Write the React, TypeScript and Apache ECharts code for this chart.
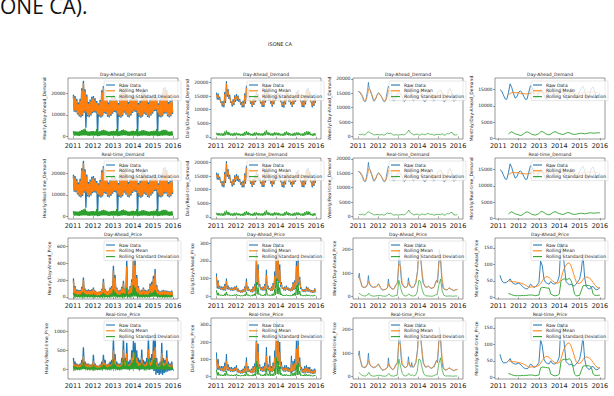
import React, { useEffect, useRef } from "react";
import * as echarts from "echarts";

// ---------------- DATA ----------------
const YEAR_TICKS = [2011, 2012, 2013, 2014, 2015, 2016];
const ROW_TITLES = ["Day-Ahead_Demand", "Real-time_Demand", "Day-Ahead_Price", "Real-time_Price"];
const COL_PREFIX = ["Hourly", "Daily", "Weekly", "Monthly"];
const SERIES_NAMES = ["Raw Data", "Rolling Mean", "Rolling Standard Deviation"];

// Demand, hourly (monthly envelope: highs / lows)
const demHourlyRawHi = [
  19500, 18800, 17500, 15800, 17500, 22500, 26000, 22000, 19500, 16000, 17200, 18500,
  18800, 17800, 16500, 15500, 17000, 21500, 23500, 22000, 19000, 15800, 17300, 18500,
  19300, 18500, 17300, 15600, 18000, 22000, 25000, 21000, 19500, 16000, 17600, 19200,
  19800, 19000, 17800, 15700, 16500, 20500, 22500, 20000, 19000, 15900, 17500, 18600,
  19600, 19700, 18200, 15500, 17500, 20000, 22500, 23000, 21500, 16000, 16800, 17800];
const demHourlyRawLo = [
  11500, 11300, 10200, 9300, 8800, 9500, 11000, 4000, 9300, 8900, 9600, 10800,
  11200, 11000, 0, 9100, 8700, 9300, 10800, 10400, 9200, 8800, 9500, 10600,
  11400, 11200, 0, 9000, 8700, 9400, 11000, 10200, 9100, 8800, 9600, 10900,
  11600, 11400, 0, 9100, 8600, 9200, 10500, 10000, 9000, 8700, 9600, 10600,
  11700, 11900, 0, 9200, 8800, 9300, 10600, 10700, 9400, 8800, 9300, 10400];
const demHourlyMeanHi = [
  18700, 18000, 16700, 15000, 16600, 21500, 24800, 21000, 18600, 15200, 16400, 17700,
  18000, 17000, 15700, 14700, 16200, 20600, 22500, 21000, 18200, 15000, 16500, 17700,
  18500, 17700, 16500, 14800, 17100, 21000, 23800, 20100, 18600, 15200, 16800, 18400,
  19000, 18200, 17000, 14900, 15700, 19600, 21500, 19200, 18200, 15100, 16700, 17800,
  18800, 18900, 17400, 14700, 16600, 19100, 21500, 22000, 20500, 15200, 16000, 17000];
const demHourlyMeanLo = [
  12100, 11900, 10800, 9900, 9400, 10100, 11600, 11100, 9900, 9500, 10200, 11400,
  11800, 11600, 10500, 9700, 9300, 9900, 11400, 11000, 9800, 9400, 10100, 11200,
  12000, 11800, 10600, 9600, 9300, 10000, 11600, 10800, 9700, 9400, 10200, 11500,
  12200, 12000, 10900, 9700, 9200, 9800, 11100, 10600, 9600, 9300, 10200, 11200,
  12300, 12500, 11200, 9800, 9400, 9900, 11200, 11300, 10000, 9400, 9900, 11000];
const demHourlyStdHi = [
  2400, 2300, 2200, 2200, 2500, 2900, 3200, 3600, 2500, 2200, 2300, 2400,
  2400, 2300, 3300, 2200, 2400, 2800, 3000, 2800, 2500, 2200, 2300, 2400,
  2500, 2400, 3400, 2200, 2500, 2900, 3100, 2700, 2500, 2200, 2300, 2500,
  2500, 2400, 3300, 2200, 2400, 2700, 2900, 2600, 2400, 2200, 2300, 2400,
  2500, 2500, 3400, 2200, 2400, 2700, 3000, 3000, 2800, 2200, 2200, 2400];
const demHourlyStdLo = [
  300, 250, 250, 200, 250, 350, 400, 350, 300, 200, 250, 300,
  300, 250, 200, 200, 250, 350, 400, 350, 300, 200, 250, 300,
  300, 250, 250, 200, 250, 350, 450, 350, 300, 200, 250, 300,
  300, 250, 250, 200, 250, 300, 400, 300, 300, 200, 250, 300,
  300, 300, 250, 200, 250, 300, 400, 400, 350, 200, 250, 300];

// Demand, daily (monthly envelope)
const demDailyRawHi = [
  16300, 16000, 14800, 13000, 13200, 16500, 20500, 17500, 15500, 13000, 13800, 15300,
  15800, 15200, 14000, 12800, 13300, 16000, 18800, 17800, 15000, 13000, 14000, 15300,
  16500, 15800, 14500, 12900, 13800, 17000, 19500, 16500, 15200, 13100, 14300, 15800,
  16800, 16200, 15200, 13000, 13000, 15500, 17800, 16000, 14800, 12900, 14200, 15200,
  16500, 17300, 15300, 12900, 13600, 15300, 17500, 18000, 16800, 12900, 13400, 14700];
const demDailyRawLo = [
  13800, 13600, 12600, 11200, 10900, 12500, 14800, 14000, 12500, 11200, 11700, 12900,
  13300, 12900, 11900, 10900, 10900, 12300, 14500, 13800, 12200, 11000, 11800, 12800,
  13900, 13600, 12300, 11000, 11000, 12700, 14900, 13500, 12300, 11100, 12000, 13300,
  14200, 13900, 12900, 11000, 10800, 12000, 13900, 13000, 12000, 11000, 12000, 12900,
  14300, 14800, 13000, 11000, 10900, 12000, 13700, 14200, 12900, 10900, 11400, 12500];
const demDailyMeanHi = [
  15600, 15300, 14100, 12400, 12500, 15700, 19600, 16800, 14800, 12400, 13200, 14600,
  15100, 14500, 13300, 12200, 12600, 15300, 18000, 17100, 14300, 12400, 13400, 14600,
  15800, 15100, 13800, 12300, 13100, 16200, 18700, 15800, 14500, 12500, 13700, 15100,
  16100, 15500, 14500, 12400, 12300, 14800, 17000, 15300, 14100, 12300, 13600, 14500,
  15800, 16600, 14600, 12300, 12900, 14600, 16700, 17300, 16000, 12300, 12800, 14000];
const demDailyMeanLo = [
  14500, 14300, 13300, 11800, 11600, 13200, 15600, 14700, 13200, 11800, 12300, 13600,
  14000, 13600, 12600, 11500, 11600, 13000, 15200, 14500, 12900, 11600, 12400, 13500,
  14600, 14300, 13000, 11600, 11700, 13400, 15600, 14200, 13000, 11700, 12600, 14000,
  14900, 14600, 13600, 11600, 11500, 12700, 14600, 13700, 12700, 11600, 12600, 13600,
  15000, 15500, 13700, 11600, 11600, 12700, 14400, 14900, 13600, 11500, 12000, 13200];
const demDailyStdHi = [
  1500, 1400, 1300, 1200, 1300, 1900, 2300, 1800, 1500, 1200, 1300, 1500,
  1500, 1300, 1200, 1100, 1300, 1800, 2100, 1700, 1400, 1100, 1300, 1600,
  1600, 1400, 1300, 1200, 1400, 1900, 2400, 1700, 1500, 1200, 1400, 1700,
  1500, 1500, 1300, 1100, 1200, 1700, 2000, 1600, 1400, 1100, 1300, 1500,
  1600, 1600, 1400, 1100, 1300, 1700, 2000, 2000, 1800, 1100, 1200, 1400];
const demDailyStdLo = [
  600, 500, 500, 400, 400, 600, 800, 600, 500, 400, 400, 500,
  600, 500, 400, 400, 400, 600, 700, 600, 500, 400, 400, 500,
  600, 500, 500, 400, 500, 600, 800, 600, 500, 400, 500, 600,
  600, 500, 500, 400, 400, 600, 700, 500, 500, 400, 400, 500,
  600, 600, 500, 400, 400, 600, 700, 700, 600, 400, 400, 500];

// Demand, weekly (two readings per month)
const demWeeklyRaw = [
  15800, 15300, 15200, 14600, 14300, 13600, 12600, 12200, 12000, 12500, 14500, 16000, 18800, 16500, 16200, 15000, 14500, 13200, 12400, 12200, 12700, 13300, 14200, 14800,
  15200, 14800, 14600, 14000, 13600, 12800, 12300, 12000, 12200, 12800, 14800, 16200, 17500, 16800, 16600, 15200, 14200, 13000, 12300, 12400, 12800, 13600, 14400, 14900,
  15600, 15200, 15000, 14600, 14000, 13200, 12400, 12100, 12300, 13000, 15200, 16500, 18200, 15800, 15600, 14800, 14000, 13000, 12300, 12500, 13000, 13900, 14800, 15400,
  15900, 15600, 15300, 15000, 14600, 13600, 12500, 12100, 12100, 12600, 14200, 15500, 16500, 15800, 15300, 14600, 13800, 12800, 12300, 12400, 13100, 13800, 14600, 15200,
  15700, 16000, 16300, 16200, 14800, 13800, 12400, 12000, 12200, 12800, 14000, 15000, 16300, 16500, 16800, 15800, 15600, 13600, 12300, 12200, 12500, 13000, 13800, 14300];
const demWeeklyMean = [
  15600, 15300, 14400, 12800, 12300, 13800, 16500, 16000, 14300, 12700, 12900, 14300,
  15000, 14500, 13500, 12400, 12300, 14000, 16200, 16300, 14200, 12600, 13100, 14300,
  15300, 15000, 14000, 12600, 12400, 14200, 16500, 15800, 14100, 12700, 13300, 14800,
  15600, 15300, 14600, 12800, 12200, 13600, 15500, 15300, 13900, 12700, 13300, 14700,
  15600, 16000, 15600, 13000, 12300, 13600, 15600, 16200, 15000, 12800, 12800, 13800];
const demWeeklyStd = [
  700, 600, 800, 500, 600, 1400, 1600, 1200, 900, 500, 600, 700,
  600, 500, 700, 400, 700, 1200, 1000, 1100, 800, 400, 600, 500,
  500, 600, 700, 500, 800, 1300, 2200, 1200, 900, 500, 700, 800,
  500, 500, 900, 600, 600, 1000, 900, 700, 800, 400, 600, 700,
  700, 600, 900, 500, 500, 1000, 900, 1300, 1400, 500, 500, 600];

// Demand, monthly
const demMonthlyRaw = [
  15000, 14600, 13400, 12200, 12000, 14000, 16800, 15600, 13800, 12400, 12800, 14200,
  14600, 14200, 13000, 12000, 12100, 14200, 16200, 15800, 13600, 12300, 13000, 14300,
  15000, 14800, 13500, 12100, 12200, 14400, 16600, 15200, 13500, 12400, 13200, 14700,
  15500, 15100, 14200, 12300, 12000, 13600, 15500, 14900, 13300, 12300, 13300, 14500,
  15400, 16000, 14800, 12300, 12100, 13500, 15400, 15900, 14400, 12400, 12700, 13800];
const demMonthlyMean = [
  null, null, null, null, null, 13500, 13800, 14100, 14100, 14000, 14100, 14100,
  13800, 13800, 13800, 13700, 13700, 13800, 13900, 14100, 14000, 13900, 13900, 13900,
  14000, 14100, 14100, 14100, 14200, 14200, 14100, 14000, 13900, 13800, 13900, 14000,
  14100, 14100, 14000, 14000, 13900, 13900, 13900, 13800, 13800, 13700, 13900, 14000,
  14000, 14100, 14100, 14200, 14300, 14300, 14200, 14300, 14200, 14100, 14000, 14000];
const demMonthlyStd = [
  null, null, null, null, null, 1300, 1800, 2000, 1700, 1400, 1200, 1100,
  900, 1000, 1400, 1800, 2000, 1800, 1500, 1200, 1100, 1000, 1200, 1500,
  2000, 2100, 1800, 1400, 1200, 1100, 1300, 1700, 2000, 2000, 1700, 1500,
  1300, 1200, 1300, 1600, 1800, 1700, 1500, 1300, 1200, 1300, 1400, 1500,
  1600, 1500, 1400, 1500, 1600, 1700, 1700, 1600, 1600, 1700, 1700, 1700];

// Day-ahead price
const daHourlyRawHi = [
  220, 130, 90, 80, 80, 120, 230, 100, 80, 90, 80, 90,
  110, 75, 55, 55, 65, 95, 215, 95, 65, 65, 110, 130,
  370, 260, 110, 75, 85, 120, 190, 100, 430, 85, 130, 210,
  480, 450, 260, 130, 75, 85, 110, 85, 75, 90, 160, 180,
  250, 330, 140, 85, 65, 75, 85, 75, 75, 65, 65, 75];
const daHourlyRawLo = [
  25, 22, 20, 15, 12, 15, 20, 18, 15, 15, 18, 20,
  15, 12, 10, 10, 10, 12, 15, 15, 12, 12, 15, 18,
  30, 25, 18, 15, 15, 15, 20, 15, 15, 15, 18, 25,
  40, 35, 25, 15, 12, 12, 15, 12, 12, 12, 18, 22,
  25, 30, 18, 10, 8, 8, 10, 10, 10, 8, 8, 8];
const daHourlyMeanHi = [
  190, 110, 75, 70, 70, 100, 200, 85, 70, 75, 70, 75,
  95, 65, 48, 48, 55, 85, 180, 80, 55, 55, 95, 110,
  310, 220, 95, 65, 72, 100, 160, 85, 360, 72, 110, 180,
  470, 380, 220, 110, 65, 72, 95, 72, 65, 75, 135, 150,
  215, 280, 120, 72, 55, 65, 72, 65, 65, 55, 55, 65];
const daHourlyMeanLo = [
  30, 28, 25, 20, 18, 20, 25, 22, 20, 20, 22, 25,
  20, 17, 15, 15, 15, 17, 20, 20, 17, 17, 20, 23,
  35, 30, 23, 20, 20, 20, 25, 20, 20, 20, 23, 30,
  45, 40, 30, 20, 17, 17, 20, 17, 17, 17, 23, 27,
  30, 35, 23, 15, 13, 13, 15, 15, 15, 13, 13, 13];
const daHourlyStdHi = [
  50, 30, 20, 18, 18, 30, 60, 25, 20, 20, 18, 20,
  25, 18, 12, 12, 15, 22, 50, 22, 15, 15, 25, 30,
  90, 60, 25, 18, 20, 30, 45, 25, 110, 20, 30, 50,
  140, 110, 60, 30, 18, 20, 25, 20, 18, 20, 40, 45,
  60, 80, 35, 20, 15, 18, 20, 18, 18, 15, 15, 18];
const daHourlyStdLo = [
  3, 3, 2, 2, 2, 2, 3, 3, 2, 2, 2, 3,
  2, 2, 1, 1, 1, 2, 2, 2, 1, 1, 2, 2,
  4, 3, 2, 2, 2, 2, 3, 2, 2, 2, 2, 3,
  5, 4, 3, 2, 2, 2, 2, 2, 2, 2, 2, 3,
  3, 4, 2, 1, 1, 1, 1, 1, 1, 1, 1, 1];

const daDailyRawHi = [
  130, 90, 60, 55, 55, 70, 100, 60, 50, 50, 50, 55,
  60, 45, 35, 35, 40, 55, 100, 55, 40, 40, 55, 70,
  260, 180, 70, 50, 55, 70, 150, 60, 45, 55, 75, 140,
  300, 250, 180, 80, 50, 55, 60, 50, 45, 50, 80, 90,
  200, 220, 110, 50, 40, 40, 55, 50, 40, 35, 35, 45];
const daDailyRawLo = [
  45, 42, 38, 35, 33, 33, 40, 38, 33, 32, 33, 38,
  28, 24, 21, 21, 24, 27, 33, 30, 24, 22, 27, 33,
  65, 55, 38, 33, 33, 33, 42, 36, 30, 30, 38, 50,
  85, 75, 55, 42, 33, 33, 36, 31, 28, 30, 36, 42,
  55, 65, 42, 28, 24, 24, 28, 26, 23, 20, 20, 23];
const daDailyMeanHi = [
  110, 80, 52, 48, 48, 60, 85, 52, 44, 44, 45, 50,
  52, 40, 31, 31, 35, 48, 80, 48, 36, 35, 48, 60,
  220, 150, 60, 45, 48, 60, 120, 52, 40, 48, 65, 115,
  260, 220, 150, 70, 45, 48, 52, 45, 40, 45, 70, 80,
  170, 190, 95, 45, 36, 36, 48, 44, 36, 31, 31, 40];
const daDailyMeanLo = [
  55, 50, 42, 38, 36, 38, 48, 42, 36, 35, 36, 42,
  32, 27, 23, 23, 27, 30, 38, 34, 27, 25, 30, 38,
  80, 65, 42, 36, 36, 38, 50, 40, 33, 34, 42, 60,
  100, 90, 65, 48, 36, 36, 40, 34, 31, 34, 42, 48,
  65, 80, 50, 31, 27, 27, 32, 30, 26, 23, 23, 26];
const daDailyStdHi = [
  35, 20, 10, 8, 8, 15, 25, 10, 7, 8, 8, 10,
  12, 8, 5, 5, 6, 10, 25, 10, 6, 6, 10, 15,
  80, 50, 15, 8, 8, 12, 40, 10, 7, 10, 15, 40,
  100, 80, 50, 15, 8, 8, 10, 7, 6, 8, 15, 20,
  60, 70, 30, 8, 6, 6, 10, 8, 6, 5, 5, 7];
const daDailyStdLo = [
  6, 5, 4, 3, 3, 4, 6, 4, 3, 3, 3, 4,
  4, 3, 2, 2, 2, 3, 5, 3, 2, 2, 3, 4,
  12, 10, 5, 3, 3, 4, 6, 4, 3, 3, 4, 8,
  15, 12, 8, 4, 3, 3, 4, 3, 2, 3, 4, 5,
  8, 10, 5, 3, 2, 2, 3, 3, 2, 2, 2, 3];

const daWeeklyRaw = [
  80, 100, 70, 60, 45, 40, 40, 38, 42, 40, 45, 55, 90, 55, 50, 45, 42, 40, 40, 42, 40, 42, 45, 48,
  55, 50, 40, 35, 30, 28, 28, 30, 30, 32, 35, 40, 75, 45, 40, 38, 33, 32, 32, 35, 45, 50, 55, 60,
  120, 200, 140, 90, 55, 50, 45, 40, 38, 40, 42, 45, 80, 55, 45, 40, 38, 40, 40, 45, 55, 60, 90, 110,
  180, 230, 200, 150, 110, 70, 55, 50, 42, 40, 40, 42, 45, 42, 38, 36, 35, 38, 38, 42, 55, 65, 70, 60,
  110, 200, 180, 130, 75, 45, 35, 32, 30, 30, 28, 30, 35, 38, 35, 32, 30, 28, 25, 27, 28, 30, 30, 32];
const daWeeklyMean = [
  85, 70, 45, 40, 41, 48, 65, 52, 43, 40, 41, 45,
  52, 40, 31, 29, 31, 37, 55, 42, 34, 33, 44, 55,
  140, 130, 60, 44, 40, 43, 60, 46, 40, 42, 55, 90,
  190, 185, 100, 55, 42, 41, 43, 38, 36, 39, 55, 67,
  140, 170, 75, 35, 30, 29, 36, 34, 30, 26, 29, 31];
const daWeeklyStd = [
  15, 10, 5, 3, 3, 6, 15, 5, 3, 2, 3, 4,
  5, 5, 3, 2, 2, 4, 12, 4, 2, 2, 5, 5,
  70, 40, 15, 4, 3, 4, 12, 5, 3, 3, 5, 20,
  70, 65, 30, 10, 4, 3, 3, 2, 2, 3, 8, 8,
  50, 75, 25, 6, 3, 2, 3, 3, 2, 2, 3, 3];

const daMonthlyRaw = [
  67, 52, 45, 44, 46, 50, 56, 46, 42, 40, 41, 43,
  40, 35, 30, 27, 25, 30, 40, 36, 30, 32, 38, 45,
  110, 95, 55, 45, 42, 40, 48, 42, 40, 42, 48, 65,
  165, 150, 95, 48, 42, 38, 40, 35, 35, 40, 48, 55,
  80, 130, 60, 32, 27, 25, 32, 33, 26, 23, 25, 30];
const daMonthlyMean = [
  null, null, null, null, null, 50, 49, 48, 47, 47, 46, 45,
  44, 42, 40, 37, 34, 31, 31, 32, 32, 33, 34, 36,
  42, 50, 58, 62, 63, 60, 55, 50, 46, 44, 43, 45,
  55, 75, 88, 98, 104, 104, 95, 80, 62, 48, 42, 43,
  45, 55, 60, 62, 60, 58, 52, 45, 38, 32, 29, 28];
const daMonthlyStd = [
  null, null, null, null, null, 12, 10, 8, 6, 5, 5, 5,
  5, 6, 5, 6, 6, 7, 7, 7, 6, 5, 6, 7,
  28, 30, 30, 29, 28, 28, 10, 7, 5, 5, 6, 10,
  48, 55, 56, 55, 55, 58, 50, 35, 10, 5, 5, 6,
  20, 35, 36, 36, 36, 35, 30, 10, 6, 6, 6, 7];

// Real-time price
const rtHourlyRawHi = [
  300, 200, 150, 120, 150, 250, 580, 200, 150, 150, 120, 130,
  380, 150, 100, 90, 120, 200, 380, 250, 120, 150, 200, 250,
  830, 400, 200, 150, 150, 300, 870, 300, 700, 200, 250, 500,
  750, 700, 500, 300, 250, 520, 250, 200, 300, 870, 300, 400,
  800, 965, 300, 150, 200, 700, 300, 250, 500, 200, 150, 200];
const rtHourlyRawLo = [
  5, 5, 0, -5, 0, 5, 10, 5, 0, 0, 0, 5,
  0, 0, -5, -5, 0, 0, 5, 5, 0, 0, 0, 5,
  10, 5, 0, -5, 0, 0, 5, 0, 0, 0, 0, 5,
  10, 10, 5, -10, -10, 0, 5, 0, 0, -20, 0, 0,
  -50, -150, -100, -150, -120, -150, -100, -80, -60, -40, -30, -20];
const rtHourlyMeanHi = [
  180, 120, 90, 80, 90, 150, 350, 130, 100, 90, 80, 90,
  220, 100, 70, 60, 80, 130, 230, 160, 80, 90, 120, 150,
  500, 250, 120, 90, 100, 180, 520, 180, 420, 120, 150, 300,
  450, 420, 300, 180, 150, 310, 150, 120, 180, 520, 180, 240,
  480, 580, 180, 90, 120, 420, 180, 150, 300, 120, 90, 120];
const rtHourlyMeanLo = [
  20, 18, 15, 12, 12, 15, 20, 18, 15, 12, 12, 15,
  15, 12, 10, 10, 12, 12, 18, 15, 12, 12, 15, 18,
  30, 25, 15, 12, 12, 15, 20, 15, 15, 12, 15, 22,
  40, 35, 25, 12, 10, 12, 15, 12, 12, 10, 15, 20,
  10, 5, 5, 0, 5, 0, 5, 5, 10, 10, 10, 10];
const rtHourlyStdHi = [
  80, 60, 40, 35, 40, 70, 180, 60, 40, 40, 35, 40,
  110, 45, 30, 25, 35, 60, 120, 80, 35, 45, 60, 80,
  260, 130, 60, 45, 45, 90, 270, 90, 220, 60, 80, 160,
  240, 450, 160, 90, 80, 160, 80, 60, 90, 270, 90, 120,
  250, 300, 90, 45, 60, 220, 90, 80, 150, 60, 45, 60];
const rtHourlyStdLo = [
  2, 2, 2, 1, 1, 2, 3, 2, 2, 1, 1, 2,
  2, 1, 1, 1, 1, 2, 2, 2, 1, 1, 2, 2,
  4, 3, 2, 1, 1, 2, 3, 2, 2, 1, 2, 3,
  5, 4, 3, 2, 2, 2, 2, 2, 2, 2, 2, 3,
  3, 4, 3, 2, 2, 2, 2, 2, 2, 2, 2, 2];

const rtDailyRawHi = [
  140, 100, 60, 60, 60, 80, 130, 70, 55, 55, 50, 55,
  65, 45, 35, 38, 45, 60, 110, 60, 40, 45, 60, 75,
  280, 190, 70, 55, 60, 80, 170, 70, 120, 60, 80, 150,
  320, 260, 200, 85, 55, 65, 65, 55, 50, 120, 90, 100,
  210, 240, 110, 55, 45, 60, 65, 55, 55, 40, 40, 45];
const rtDailyRawLo = [
  40, 38, 33, 30, 28, 28, 35, 33, 28, 27, 28, 33,
  24, 20, 17, 17, 20, 22, 28, 25, 20, 18, 22, 28,
  55, 45, 32, 28, 28, 28, 36, 30, 25, 25, 32, 42,
  75, 65, 45, 35, 28, 28, 30, 26, 23, 25, 30, 36,
  45, 55, 35, 22, 18, 18, 22, 20, 18, 15, 15, 18];
const rtDailyMeanHi = [
  100, 75, 50, 48, 48, 60, 90, 55, 44, 44, 42, 46,
  50, 38, 30, 31, 36, 47, 80, 48, 34, 36, 48, 58,
  200, 140, 58, 45, 48, 60, 120, 55, 80, 48, 62, 110,
  240, 200, 140, 65, 45, 50, 50, 44, 40, 80, 68, 75,
  160, 180, 85, 44, 36, 46, 50, 44, 42, 32, 32, 36];
const rtDailyMeanLo = [
  50, 46, 38, 34, 32, 33, 42, 38, 32, 31, 32, 38,
  28, 24, 20, 20, 23, 26, 33, 29, 23, 21, 26, 32,
  70, 55, 37, 32, 32, 33, 42, 35, 30, 29, 37, 50,
  90, 80, 55, 40, 32, 32, 35, 30, 27, 30, 36, 42,
  55, 68, 42, 26, 22, 22, 26, 24, 22, 18, 18, 21];
const rtDailyStdHi = [
  40, 25, 12, 10, 10, 18, 30, 12, 8, 10, 8, 10,
  15, 9, 6, 7, 8, 12, 28, 12, 7, 8, 12, 16,
  90, 55, 16, 10, 10, 15, 45, 12, 30, 12, 16, 45,
  110, 90, 60, 18, 10, 12, 12, 9, 8, 30, 18, 22,
  65, 80, 32, 10, 8, 12, 12, 10, 10, 6, 6, 8];
const rtDailyStdLo = [
  6, 5, 4, 3, 3, 4, 6, 4, 3, 3, 3, 4,
  4, 3, 2, 2, 2, 3, 5, 3, 2, 2, 3, 4,
  12, 10, 5, 3, 3, 4, 6, 4, 4, 3, 4, 8,
  15, 12, 8, 4, 3, 3, 4, 3, 2, 4, 4, 5,
  8, 10, 5, 3, 2, 3, 3, 3, 2, 2, 2, 3];

const rtWeeklyRaw = [
  90, 110, 75, 60, 45, 40, 40, 37, 42, 40, 48, 60, 100, 55, 50, 45, 42, 40, 38, 40, 40, 42, 45, 50,
  55, 48, 40, 35, 30, 27, 28, 30, 32, 33, 36, 42, 80, 45, 40, 38, 32, 30, 32, 35, 45, 52, 58, 60,
  130, 210, 150, 90, 55, 48, 45, 40, 38, 40, 42, 48, 85, 55, 45, 40, 60, 40, 40, 45, 55, 60, 95, 115,
  190, 230, 210, 150, 120, 75, 55, 50, 42, 40, 42, 45, 45, 42, 38, 36, 35, 38, 45, 42, 55, 65, 70, 60,
  115, 210, 190, 130, 80, 45, 35, 30, 28, 28, 30, 32, 35, 38, 35, 32, 30, 28, 25, 27, 28, 30, 30, 32];
const rtWeeklyMean = [
  90, 72, 46, 40, 41, 50, 68, 50, 42, 40, 42, 46,
  52, 40, 30, 29, 32, 37, 55, 42, 32, 33, 45, 56,
  145, 135, 60, 44, 40, 44, 62, 46, 45, 43, 55, 92,
  195, 190, 105, 56, 42, 42, 44, 38, 37, 42, 56, 67,
  145, 175, 78, 35, 29, 30, 36, 34, 30, 26, 29, 31];
const rtWeeklyStd = [
  18, 12, 5, 3, 3, 7, 18, 6, 3, 2, 3, 5,
  6, 5, 3, 2, 2, 5, 14, 4, 3, 2, 5, 6,
  75, 45, 15, 4, 3, 5, 14, 5, 8, 3, 6, 22,
  75, 70, 35, 12, 4, 3, 3, 2, 2, 4, 8, 8,
  55, 80, 28, 6, 3, 3, 3, 3, 2, 2, 3, 3];

const rtMonthlyRaw = [
  70, 52, 44, 44, 45, 50, 57, 45, 42, 40, 41, 43,
  40, 34, 29, 27, 26, 30, 40, 37, 30, 32, 37, 45,
  115, 95, 55, 45, 42, 41, 50, 42, 40, 42, 48, 62,
  160, 150, 100, 48, 42, 38, 40, 35, 35, 40, 47, 55,
  80, 125, 55, 32, 26, 24, 32, 33, 26, 23, 25, 30];
const rtMonthlyMean = [
  null, null, null, null, null, 50, 49, 48, 47, 47, 46, 45,
  44, 42, 40, 37, 34, 31, 31, 32, 32, 33, 34, 36,
  43, 51, 59, 63, 63, 61, 55, 50, 46, 44, 43, 45,
  55, 74, 88, 98, 104, 104, 95, 80, 62, 48, 42, 43,
  45, 55, 60, 62, 60, 58, 52, 45, 38, 32, 29, 28];
const rtMonthlyStd = [
  null, null, null, null, null, 12, 10, 8, 6, 5, 5, 5,
  5, 6, 5, 6, 6, 7, 7, 7, 6, 5, 6, 7,
  29, 31, 31, 30, 29, 29, 10, 7, 5, 5, 6, 10,
  47, 54, 55, 54, 54, 57, 50, 35, 10, 5, 5, 6,
  20, 34, 35, 35, 35, 34, 29, 10, 6, 6, 6, 7];

// axis ranges and tick labels per row/column
const Y_RANGES = [
  [[-1300, 27300], [-800, 21700], [-900, 20300], [-200, 18600]],
  [[-1300, 27300], [-800, 21700], [-900, 20300], [-200, 18600]],
  [[-25, 700], [-15, 330], [-10, 250], [-5, 180]],
  [[-260, 1360], [-15, 340], [-10, 250], [-5, 180]],
];
const Y_TICKS = [
  [[0, 10000, 20000], [0, 5000, 10000, 15000, 20000], [0, 5000, 10000, 15000, 20000], [0, 5000, 10000, 15000]],
  [[0, 10000, 20000], [0, 5000, 10000, 15000, 20000], [0, 5000, 10000, 15000, 20000], [0, 5000, 10000, 15000]],
  [[0, 200, 400, 600], [0, 100, 200, 300], [0, 100, 200], [0, 50, 100, 150]],
  [[0, 500, 1000], [0, 100, 200, 300], [0, 100, 200], [0, 50, 100, 150]],
];

// ---------------- LAYOUT ----------------
const COL_LEFT = [68, 211, 353, 495];
const ROW_TOP = [78, 158, 238, 318];
const GW = 110;
const GH = 61;
const COLORS = ["#1f77b4", "#ff7f0e", "#2ca02c"];
const LINE_W = [1.35, 1.0, 0.7, 0.9];
const FONT = "DejaVu Sans";

type Pt = [number, number | null];
const zig = (hi: number[], lo: number[]): Pt[] => {
  const out: Pt[] = [];
  hi.forEach((h, i) => {
    out.push([2011 + (i + 0.25) / 12, h]);
    out.push([2011 + (i + 0.75) / 12, lo[i]]);
  });
  return out;
};
const semi = (v: number[]): Pt[] => v.map((y, i) => [2011 + (i + 0.5) / 24, y]);
const mid = (v: (number | null)[]): Pt[] => v.map((y, i) => [2011 + (i + 0.5) / 12, y]);
const mend = (v: (number | null)[]): Pt[] => v.map((y, i) => [2011 + (i + 1) / 12, y]);

function panelData(row: number, col: number): Pt[][] {
  const demand = row < 2;
  const rt = row === 3;
  if (demand) {
    if (col === 0) return [zig(demHourlyRawHi, demHourlyRawLo), zig(demHourlyMeanHi, demHourlyMeanLo), zig(demHourlyStdHi, demHourlyStdLo)];
    if (col === 1) return [zig(demDailyRawHi, demDailyRawLo), zig(demDailyMeanHi, demDailyMeanLo), zig(demDailyStdHi, demDailyStdLo)];
    if (col === 2) return [semi(demWeeklyRaw), mid(demWeeklyMean), mid(demWeeklyStd)];
    return [mend(demMonthlyRaw), mend(demMonthlyMean), mend(demMonthlyStd)];
  }
  if (!rt) {
    if (col === 0) return [zig(daHourlyRawHi, daHourlyRawLo), zig(daHourlyMeanHi, daHourlyMeanLo), zig(daHourlyStdHi, daHourlyStdLo)];
    if (col === 1) return [zig(daDailyRawHi, daDailyRawLo), zig(daDailyMeanHi, daDailyMeanLo), zig(daDailyStdHi, daDailyStdLo)];
    if (col === 2) return [semi(daWeeklyRaw), mid(daWeeklyMean), mid(daWeeklyStd)];
    return [mend(daMonthlyRaw), mend(daMonthlyMean), mend(daMonthlyStd)];
  }
  if (col === 0) return [zig(rtHourlyRawHi, rtHourlyRawLo), zig(rtHourlyMeanHi, rtHourlyMeanLo), zig(rtHourlyStdHi, rtHourlyStdLo)];
  if (col === 1) return [zig(rtDailyRawHi, rtDailyRawLo), zig(rtDailyMeanHi, rtDailyMeanLo), zig(rtDailyStdHi, rtDailyStdLo)];
  if (col === 2) return [semi(rtWeeklyRaw), mid(rtWeeklyMean), mid(rtWeeklyStd)];
  return [mend(rtMonthlyRaw), mend(rtMonthlyMean), mend(rtMonthlyStd)];
}

function buildOption() {
  const grid: any[] = [];
  const xAxis: any[] = [];
  const yAxis: any[] = [];
  const series: any[] = [];
  const legend: any[] = [];
  const graphic: any[] = [
    { type: "text", x: 0, y: 5.5, style: { text: "ONE CA).", fontSize: 21, fontFamily: "Open Sans", fill: "#111", verticalAlign: "middle" } },
    { type: "text", x: 280, y: 43.5, style: { text: "ISONE CA", fontSize: 5, fontFamily: FONT, fill: "#222", align: "center", verticalAlign: "middle" } },
  ];
  for (let r = 0; r < 4; r++) {
    for (let c = 0; c < 4; c++) {
      const idx = r * 4 + c;
      const gl = COL_LEFT[c];
      const gt = ROW_TOP[r];
      grid.push({ left: gl, top: gt, width: GW, height: GH, show: true, borderColor: "#555", borderWidth: 0.6, backgroundColor: "transparent" });
      const monthly = c === 3;
      xAxis.push({
        type: "value", gridIndex: idx,
        min: monthly ? 2010.84 : 2010.75, max: 2016.25,
        axisLine: { show: false },
        splitLine: { show: false },
        axisTick: { show: true, length: 2, customValues: YEAR_TICKS, lineStyle: { color: "#444", width: 0.5 } },
        axisLabel: { show: true, customValues: YEAR_TICKS, fontSize: 6.5, fontFamily: FONT, color: "#222", margin: 3, formatter: (v: number) => String(Math.round(v)) },
      });
      const ticks = Y_TICKS[r][c];
      const maxLen = Math.max(...ticks.map((t) => String(t).length));
      yAxis.push({
        type: "value", gridIndex: idx,
        min: Y_RANGES[r][c][0], max: Y_RANGES[r][c][1],
        axisLine: { show: false },
        splitLine: { show: false },
        axisTick: { show: true, length: 2, customValues: ticks, lineStyle: { color: "#444", width: 0.5 } },
        axisLabel: { show: true, customValues: ticks, fontSize: 4.5, fontFamily: FONT, color: "#222", margin: 2.5, formatter: (v: number) => String(Math.round(v)) },
        name: `${COL_PREFIX[c]}/${ROW_TITLES[r]}`,
        nameLocation: "middle",
        nameGap: maxLen * 2.9 + 7,
        nameTextStyle: { fontSize: 4.5, fontFamily: FONT, color: "#222" },
      });
      const data = panelData(r, c);
      const lw = LINE_W[c];
      data.forEach((d, k) => {
        series.push({
          type: "line", name: SERIES_NAMES[k], xAxisIndex: idx, yAxisIndex: idx,
          data: d, showSymbol: false, symbol: "none", connectNulls: false,
          lineStyle: { color: COLORS[k], width: lw, join: "miter" }, itemStyle: { color: COLORS[k] },
          z: 2 + k, silent: true,
        });
      });
      legend.push({
        data: SERIES_NAMES, left: gl + 36, top: gt + 3, orient: "vertical",
        icon: "rect", itemWidth: 9, itemHeight: 1.1, itemGap: 0.8,
        textStyle: { fontSize: 4.5, fontFamily: FONT, color: "#222", padding: [0, 0, 0, -1] },
        backgroundColor: "rgba(255,255,255,0.8)", borderColor: "#ccc", borderWidth: 0.5, borderRadius: 1,
        padding: [1.5, 2, 1.5, 2], selectedMode: false,
      });
      graphic.push({
        type: "text", x: gl + GW / 2, y: gt - 3.8,
        style: { text: ROW_TITLES[r], fontSize: 4.5, fontFamily: FONT, fill: "#222", align: "center", verticalAlign: "middle" },
      });
    }
  }
  return {
    animation: false,
    backgroundColor: "#fff",
    textStyle: { fontFamily: FONT },
    grid, xAxis, yAxis, series, legend, graphic,
  };
}

export default function App() {
  const ref = useRef<HTMLDivElement>(null);
  useEffect(() => {
    if (!ref.current) return;
    const chart = echarts.init(ref.current, undefined, { renderer: "svg" });
    chart.setOption(buildOption());
    return () => chart.dispose();
  }, []);
  return <div ref={ref} style={{ width: 614, height: 396, position: "absolute", left: 0, top: 0 }} />;
}
